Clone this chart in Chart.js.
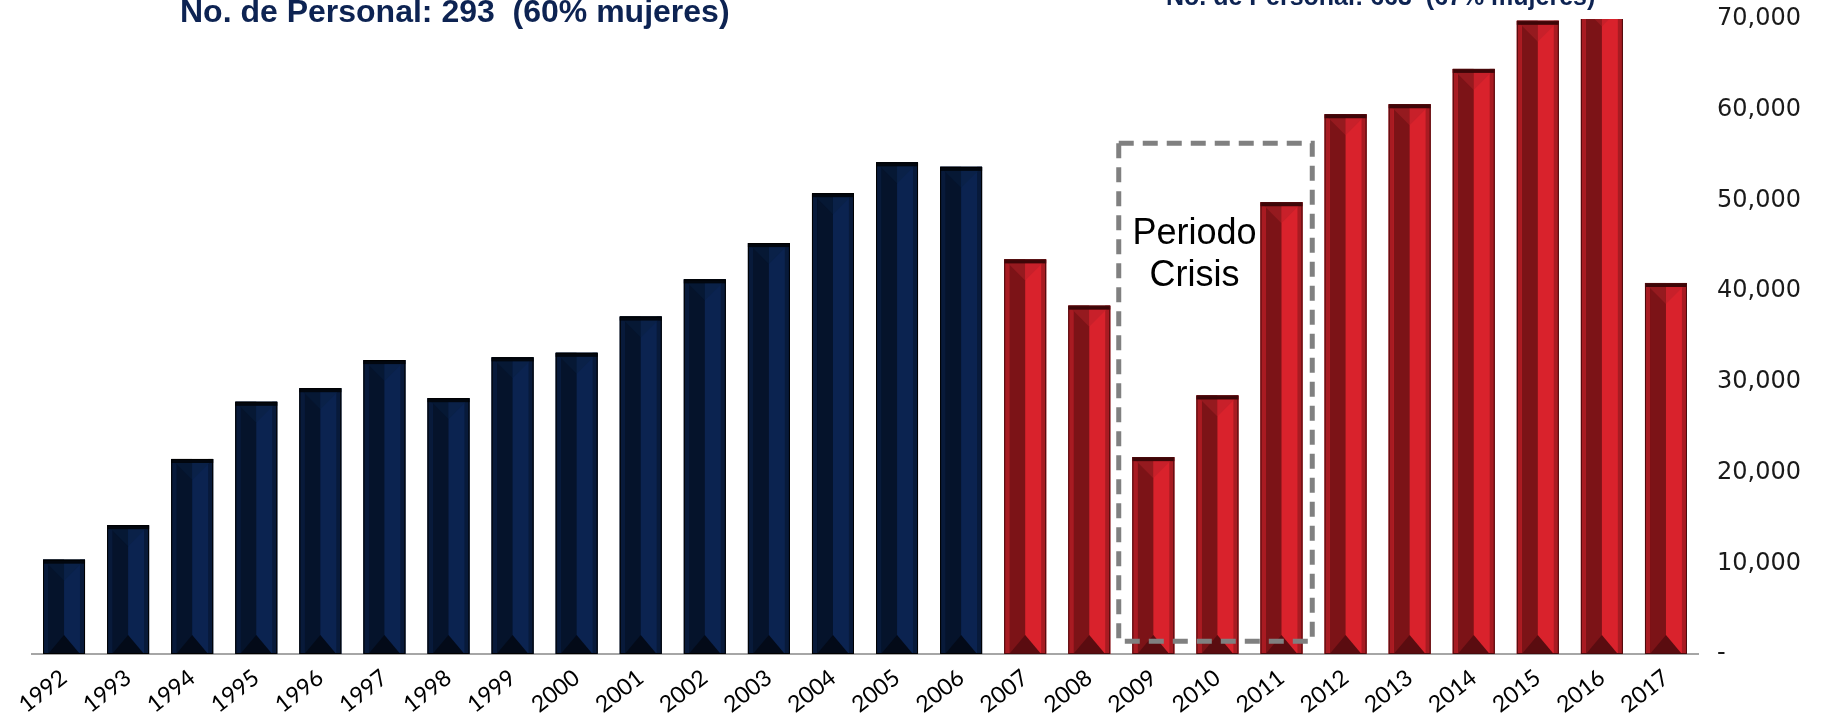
<!DOCTYPE html>
<html>
<head>
<meta charset="utf-8">
<script src="https://cdn.jsdelivr.net/npm/chart.js@4/dist/chart.umd.min.js"></script>
<style>
  html, body { margin: 0; padding: 0; background: #fff; }
  #wrap { position: relative; width: 1822px; height: 716px; overflow: hidden; }
  .titulo {
    position: absolute;
    font-family: "Liberation Sans", Arial, sans-serif;
    font-weight: bold;
    color: #0d2352;
    white-space: pre;
    line-height: 1;
  }
  #tituloIzq { left: 180px; top: -5px; font-size: 32px; }
  #tituloDer { left: 1166px; top: -16px; font-size: 25px; }
</style>
</head>
<body>
<div id="wrap">
  <canvas id="grafico" width="1822" height="716"></canvas>
  <div class="titulo" id="tituloIzq">No. de Personal: 293  (60% mujeres)</div>
  <div class="titulo" id="tituloDer">No. de Personal: 663  (67% mujeres)</div>
</div>
<script>
// Datos
const anios = ['1992', '1993', '1994', '1995', '1996', '1997', '1998', '1999', '2000', '2001',
  '2002', '2003', '2004', '2005', '2006', '2007', '2008', '2009', '2010', '2011',
  '2012', '2013', '2014', '2015', '2016', '2017'];
const valores = [10400, 14200, 21500, 27800, 29300, 32400, 28200, 32700, 33200, 37200,
  41300, 45300, 50800, 54200, 53700, 43500, 38400, 21700, 28500, 49800,
  59500, 60600, 64500, 69800, 71500, 40900];
const ticksY = [0, 10000, 20000, 30000, 40000, 50000, 60000, 70000];

// Periodo de crisis
const crisisDesde = '2009';
const crisisHasta = '2011';
const crisisLineas = ['Periodo', 'Crisis'];

const ULTIMO_ANIO_AZUL = 2006;

const paletas = {
    azul: { claro: '#0b2350', oscuro: '#05132b', borde: '#081a3a', tapa: '#02070f',
        triSup1: '#061834', triSup2: '#0a2148', triInf: '#030a18', linea: '#000000' },
    rojo: { claro: '#d9222c', oscuro: '#7c1317', borde: '#a81b22', tapa: '#3d0608',
        triSup1: '#951a1f', triSup2: '#c8202a', triInf: '#5a0c10', linea: '#4a0a0c' }
};

function paletaDe(indice) {
    return parseInt(anios[indice], 10) <= ULTIMO_ANIO_AZUL ? paletas.azul : paletas.rojo;
}

// Efecto biselado de las barras
const biselPlugin = {
    id: 'bisel',
    afterDatasetsDraw(chart) {
        const ctx = chart.ctx;
        const area = chart.chartArea;
        const meta = chart.getDatasetMeta(0);
        ctx.save();
        ctx.beginPath();
        ctx.rect(area.left, area.top, area.right - area.left, area.bottom - area.top);
        ctx.clip();
        meta.data.forEach((barra, i) => {
            const p = barra.getProps(['x', 'y', 'width', 'base'], true);
            const pal = paletaDe(i);
            const L = p.x - p.width / 2;
            const R = p.x + p.width / 2;
            const T = p.y;
            const B = p.base;
            const alto = B - T;
            const e = Math.max(3, p.width * 0.12);
            const d = Math.min(p.width * 0.5, alto / 2);

            // mitad izquierda oscura
            ctx.fillStyle = pal.oscuro;
            ctx.fillRect(L + e, T, p.x - L - e, alto);
            // bordes laterales
            ctx.fillStyle = pal.borde;
            ctx.fillRect(L, T, e, alto);
            ctx.fillRect(R - e, T, e, alto);
            // bisel superior en V
            ctx.fillStyle = pal.triSup1;
            ctx.beginPath();
            ctx.moveTo(L, T); ctx.lineTo(p.x, T); ctx.lineTo(p.x, T + d); ctx.lineTo(L + e, T + e);
            ctx.closePath(); ctx.fill();
            ctx.fillStyle = pal.triSup2;
            ctx.beginPath();
            ctx.moveTo(p.x, T); ctx.lineTo(R, T); ctx.lineTo(R - e, T + e); ctx.lineTo(p.x, T + d);
            ctx.closePath(); ctx.fill();
            // triangulo inferior
            ctx.fillStyle = pal.triInf;
            ctx.beginPath();
            ctx.moveTo(L + e, B); ctx.lineTo(R - e, B); ctx.lineTo(p.x, B - d * 0.9);
            ctx.closePath(); ctx.fill();
            // tapa superior
            ctx.fillStyle = pal.tapa;
            ctx.fillRect(L, T, p.width, 4);
            // contorno
            ctx.strokeStyle = pal.linea;
            ctx.lineWidth = 1;
            ctx.strokeRect(L + 0.5, T + 0.5, p.width - 1, alto - 1);
        });
        ctx.restore();
    }
};

// Recuadro punteado del periodo de crisis
const crisisPlugin = {
    id: 'crisis',
    afterDatasetsDraw(chart) {
        const ctx = chart.ctx;
        const x = chart.scales.x;
        const y = chart.scales.y;
        const paso = x.getPixelForValue(1) - x.getPixelForValue(0);
        const izq = x.getPixelForValue(anios.indexOf(crisisDesde)) - paso * 0.54;
        const der = x.getPixelForValue(anios.indexOf(crisisHasta)) + paso * 0.48;
        const arriba = y.getPixelForValue(56300);
        const abajo = y.getPixelForValue(1400);
        ctx.save();
        ctx.strokeStyle = '#808080';
        ctx.lineWidth = 5;
        ctx.setLineDash([15, 9]);
        ctx.strokeRect(izq, arriba, der - izq, abajo - arriba);
        ctx.setLineDash([]);
        ctx.fillStyle = '#000';
        ctx.font = '36px "Liberation Sans", Arial, sans-serif';
        ctx.textAlign = 'center';
        ctx.textBaseline = 'alphabetic';
        const cx = (izq + der) / 2 - 21;
        crisisLineas.forEach((t, i) => {
            ctx.fillText(t, cx, arriba + 101 + i * 42);
        });
        ctx.restore();
    }
};

const ctx = document.getElementById('grafico').getContext('2d');
new Chart(ctx, {
    type: 'bar',
    data: {
        labels: anios,
        datasets: [{
            data: valores,
            backgroundColor: (c) => paletaDe(c.dataIndex).claro,
            borderWidth: 0,
            barPercentage: 0.655,
            categoryPercentage: 1
        }]
    },
    options: {
        responsive: false,
        animation: false,
        layout: {
            padding: { left: 32, right: 0, top: 19, bottom: 0 }
        },
        plugins: {
            legend: { display: false },
            tooltip: { enabled: false }
        },
        scales: {
            x: {
                grid: { display: false, drawTicks: false },
                border: { display: true, color: '#a6a6a6', width: 2 },
                ticks: {
                    font: { family: 'Lato', size: 23 },
                    color: '#000',
                    minRotation: 38,
                    maxRotation: 38,
                    padding: 10
                },
                afterFit(axis) {
                    axis.paddingLeft = 0;
                    axis.paddingRight = 0;
                    axis.height = 62;
                }
            },
            y: {
                position: 'right',
                min: 0,
                max: 70000,
                afterBuildTicks(axis) {
                    axis.ticks = ticksY.map(v => ({ value: v }));
                },
                afterFit(axis) {
                    axis.paddingTop = 0;
                    axis.paddingBottom = 0;
                    axis.width = 124;
                },
                grid: { display: false, drawTicks: false },
                border: { display: false },
                ticks: {
                    font: { family: '"DejaVu Sans"', size: 24 },
                    color: '#1a1a1a',
                    padding: 19,
                    callback: (v) => v === 0 ? '-' : v.toLocaleString('en-US')
                }
            }
        }
    },
    plugins: [biselPlugin, crisisPlugin]
});
</script>
</body>
</html>
